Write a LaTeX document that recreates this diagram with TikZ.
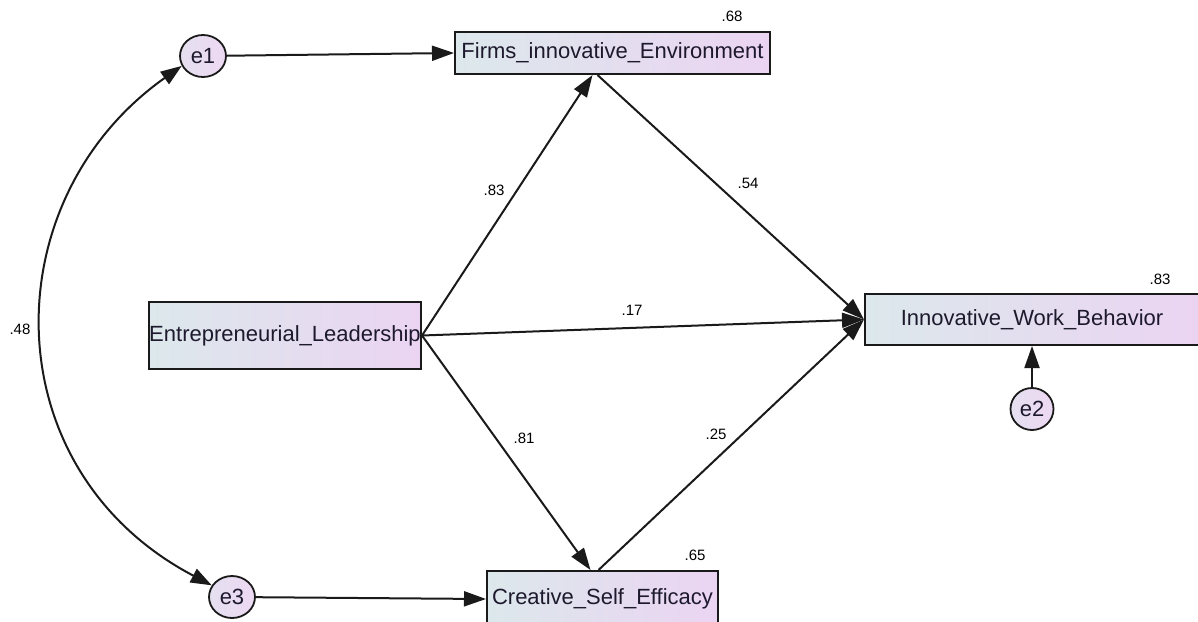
\documentclass[tikz,border=0pt]{standalone}
\usepackage{fontspec}
\setmainfont{Liberation Sans}
\usetikzlibrary{arrows.meta,shapes.geometric,calc}
\definecolor{boxL}{HTML}{DCE8EC}
\definecolor{boxR}{HTML}{EBD4F2}
\definecolor{circL}{HTML}{E4E0F0}
\definecolor{circR}{HTML}{EDD8F2}
\definecolor{edgec}{HTML}{1A1A1A}
\definecolor{txt}{HTML}{1E1A2E}
\tikzset{
  varbox/.style={draw=edgec, line width=2pt, left color=boxL, right color=boxR,
    inner sep=0pt, text=txt, font=\fontsize{22}{24}\selectfont},
  errc/.style={ellipse, draw=edgec, line width=1.8pt, left color=circL, right color=circR,
    inner sep=0pt, text=txt, font=\fontsize{22}{24}\selectfont},
  path/.style={draw=edgec, line width=2pt, -{Triangle[length=22pt,width=15pt]}},
  covpath/.style={draw=edgec, line width=2pt, {Triangle[length=21pt,width=15pt]}-{Triangle[length=21pt,width=15pt]}},
  coef/.style={text=black, inner sep=0pt, font=\fontsize{15}{17}\selectfont}
}
\begin{document}
\begin{tikzpicture}[x=1pt,y=-1pt]
\useasboundingbox (0,0) rectangle (1198,621);
% variables
\node[varbox, minimum width=315pt, minimum height=42pt] (fie) at (612.5,53) {Firms\_innovative\_Environment};
\node[varbox, minimum width=272pt, minimum height=67pt] (el) at (285,335.5) {Entrepreneurial\_Leadership};
\node[varbox, minimum width=334pt, minimum height=51pt] (iwb) at (1032,319.5) {Innovative\_Work\_Behavior};
\node[varbox, minimum width=231pt, minimum height=56pt] (cse) at (602.5,599) {\raisebox{3pt}{Creative\_Self\_Efficacy}};
% errors
\node[errc, minimum width=46pt, minimum height=42pt] (e1) at (203,56) {e1};
\node[errc, minimum width=43pt, minimum height=42pt] (e2) at (1032,409) {e2};
\node[errc, minimum width=46pt, minimum height=42pt] (e3) at (232,597) {e3};
% anchor points
\coordinate (fieIn) at ($(fie.south)+(-20,0)$);
\coordinate (fieOut) at ($(fie.south)+(-15,0)$);
\coordinate (cseIn) at ($(cse.north)+(-12,0)$);
\coordinate (cseOut) at ($(cse.north)+(-4,0)$);
% paths
\draw[path] (e1) -- (fie.west);
\draw[path] (e3) -- (cse.west);
\draw[path] (e2) -- (iwb.south);
\draw[path] (el.east) -- (fieIn);
\draw[path] (fieOut) -- (iwb.west);
\draw[path] (el.east) -- (iwb.west);
\draw[path] (el.east) -- (cseIn);
\draw[path] (cseOut) -- (iwb.west);
\draw[covpath] (e1.205) .. controls (-8,200) and (-8,470) .. (e3.150);
% coefficients
\node[coef] (c68) at (732,16) {.68};
\node[coef] (c83a) at (494,190) {.83};
\node[coef] (c54) at (748,183) {.54};
\node[coef] (c17) at (632,310) {.17};
\node[coef] (c81) at (524,438) {.81};
\node[coef] (c25) at (716,434) {.25};
\node[coef] (c83b) at (1160,279) {.83};
\node[coef] (c65) at (695,555) {.65};
\node[coef] (c48) at (20,329) {.48};
\end{tikzpicture}
\end{document}
